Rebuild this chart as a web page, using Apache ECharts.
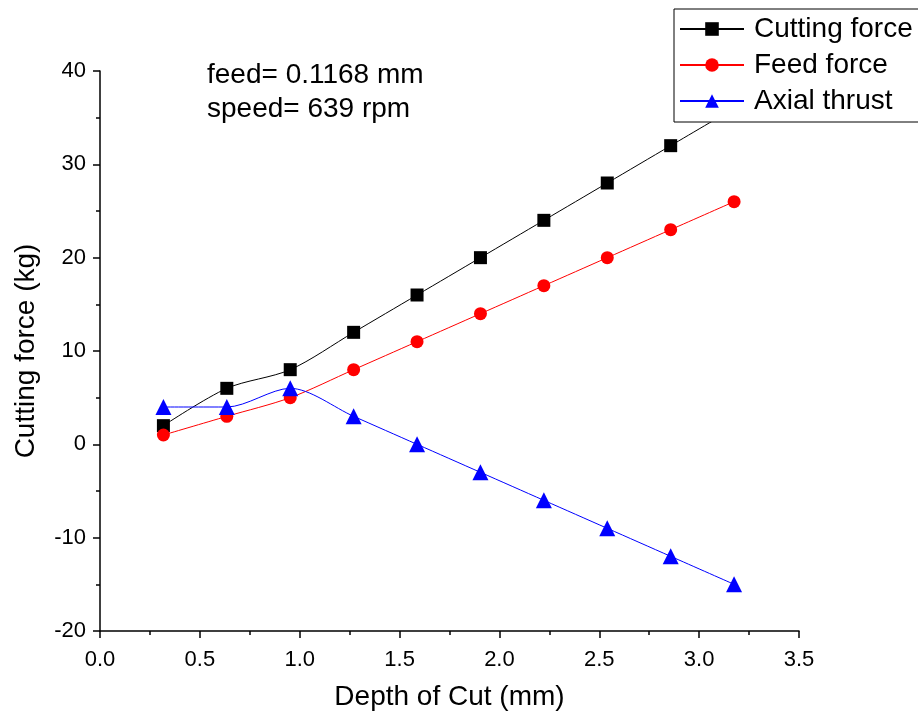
<!DOCTYPE html>
<html><head><meta charset="utf-8">
<script src="https://cdn.jsdelivr.net/npm/echarts@6/dist/echarts.min.js"></script>
<style>html,body{margin:0;padding:0;background:#fff}#c{width:918px;height:721px}</style>
</head><body><div id="c"></div>
<script>
const depth = [0.3175, 0.635, 0.9525, 1.27, 1.5875, 1.905, 2.2225, 2.54, 2.8575, 3.175];
const cuttingForce = [2, 6, 8, 12, 16, 20, 24, 28, 32, 36];
const feedForce = [1, 3, 5, 8, 11, 14, 17, 20, 23, 26];
const axialThrust = [4, 4, 6, 3, 0, -3, -6, -9, -12, -15];
const seriesNames = ['Cutting force', 'Feed force', 'Axial thrust'];
const notes = ['feed= 0.1168 mm', 'speed= 639 rpm'];

const F = 'Liberation Sans, Arial, sans-serif';
const pair = ys => depth.map((x, i) => [x, ys[i]]);
const chart = echarts.init(document.getElementById('c'), null, {renderer: 'canvas'});
chart.setOption({
  animation: false,
  backgroundColor: '#fff',
  grid: {left: 100, right: 119, top: 71, bottom: 90, containLabel: false},
  legend: {
    orient: 'vertical', left: 674, top: 9,
    padding: [3, 20, 4, 5], itemGap: 2,
    itemWidth: 64, itemHeight: 17,
    borderColor: '#000', borderWidth: 1, backgroundColor: '#fff',
    textStyle: {fontFamily: F, fontSize: 28, color: '#000', lineHeight: 34, padding: [0, 0, 0, 5]},
    data: seriesNames
  },
  graphic: [
    {type: 'text', x: 207, y: 75, style: {text: notes[0], font: '28px ' + F, fill: '#000', verticalAlign: 'middle'}},
    {type: 'text', x: 207, y: 109, style: {text: notes[1], font: '28px ' + F, fill: '#000', verticalAlign: 'middle'}}
  ],
  xAxis: {
    type: 'value', min: 0, max: 3.5, interval: 0.5,
    name: 'Depth of Cut (mm)', nameLocation: 'middle', nameGap: 52,
    nameTextStyle: {fontFamily: F, fontSize: 28, color: '#000'},
    axisLine: {show: true, onZero: false, lineStyle: {color: '#000', width: 1.5}},
    axisTick: {show: true, inside: false, length: 7, lineStyle: {color: '#000', width: 1.5}},
    minorTick: {show: true, splitNumber: 2, length: 4, lineStyle: {color: '#000', width: 1.5}},
    axisLabel: {fontFamily: F, fontSize: 22, color: '#000', margin: 18, formatter: v => v.toFixed(1)},
    splitLine: {show: false}
  },
  yAxis: {
    type: 'value', min: -20, max: 40, interval: 10,
    name: 'Cutting force (kg)', nameLocation: 'middle', nameGap: 60, nameRotate: 90,
    nameTextStyle: {fontFamily: F, fontSize: 28, color: '#000'},
    axisLine: {show: true, onZero: false, lineStyle: {color: '#000', width: 1.5}},
    axisTick: {show: true, inside: false, length: 7, lineStyle: {color: '#000', width: 1.5}},
    minorTick: {show: true, splitNumber: 2, length: 4, lineStyle: {color: '#000', width: 1.5}},
    axisLabel: {fontFamily: F, fontSize: 22, color: '#000', margin: 14},
    splitLine: {show: false}
  },
  series: [
    {name: seriesNames[0], type: 'line', data: pair(cuttingForce), smooth: 0.3,
     symbol: 'rect', symbolSize: 13, itemStyle: {color: '#000'}, lineStyle: {color: '#000', width: 1}},
    {name: seriesNames[1], type: 'line', data: pair(feedForce), smooth: 0.3,
     symbol: 'circle', symbolSize: 13, itemStyle: {color: '#ff0000'}, lineStyle: {color: '#ff0000', width: 1}},
    {name: seriesNames[2], type: 'line', data: pair(axialThrust), smooth: 0.3,
     symbol: 'triangle', symbolSize: 16, itemStyle: {color: '#0000ff'}, lineStyle: {color: '#0000ff', width: 1}}
  ]
});
</script></body></html>
